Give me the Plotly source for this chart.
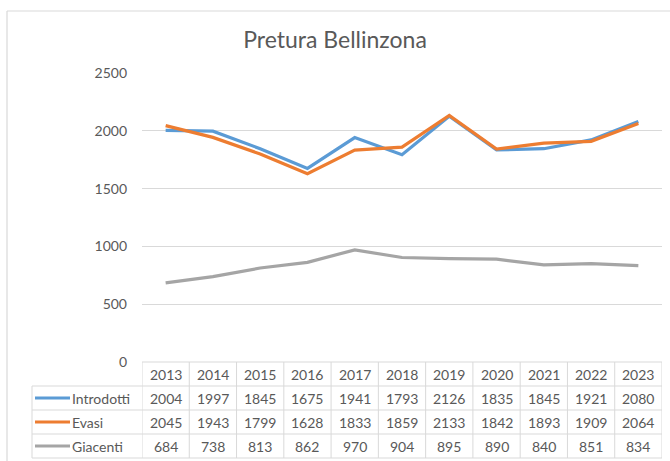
import plotly.graph_objects as go

years = ["2013", "2014", "2015", "2016", "2017", "2018", "2019", "2020", "2021", "2022", "2023"]
introdotti = [2004, 1997, 1845, 1675, 1941, 1793, 2126, 1835, 1845, 1921, 2080]
evasi = [2045, 1943, 1799, 1628, 1833, 1859, 2133, 1842, 1893, 1909, 2064]
giacenti = [684, 738, 813, 862, 970, 904, 895, 890, 840, 851, 834]

series = [("Introdotti", introdotti, "#5B9BD5"),
          ("Evasi", evasi, "#ED7D31"),
          ("Giacenti", giacenti, "#A5A5A5")]

W, H = 670, 461
L, R, T, B = 142, 662, 73, 362
FONT = "Lato"
TXT = "#595959"
GRID = "#D9D9D9"
FS = 14

def px(x):
    return (x - L) / (R - L)

def py(y):
    return (B - y) / (B - T)

xs = list(range(len(years)))
fig = go.Figure()
for name, vals, col in series:
    fig.add_trace(go.Scatter(x=xs, y=vals, mode="lines", name=name,
                             line=dict(color=col, width=3.2)))

shapes = []
annotations = []

# chart border
shapes.append(dict(type="line", xref="paper", yref="paper", x0=px(7), x1=px(700), y0=py(11), y1=py(11),
                   line=dict(color=GRID, width=1.2)))
shapes.append(dict(type="line", xref="paper", yref="paper", x0=px(7), x1=px(7), y0=py(11), y1=py(470),
                   line=dict(color=GRID, width=1.2)))

# table
row_edges = [362, 386, 410, 434, 458]
n = len(years)
shapes.append(dict(type="line", xref="x", yref="paper", x0=-0.5, x1=n - 0.5, y0=py(362), y1=py(362),
                   line=dict(color=GRID, width=1)))
for ye in row_edges[1:]:
    shapes.append(dict(type="line", xref="paper", yref="paper", x0=px(32), x1=1, y0=py(ye), y1=py(ye),
                       line=dict(color=GRID, width=1)))
for i in range(n + 1):
    shapes.append(dict(type="line", xref="x", yref="paper", x0=i - 0.5, x1=i - 0.5, y0=py(362), y1=py(458),
                       line=dict(color=GRID, width=1)))
shapes.append(dict(type="line", xref="paper", yref="paper", x0=px(32), x1=px(32), y0=py(386), y1=py(458),
                   line=dict(color=GRID, width=1)))

row_centers = [(row_edges[k] + row_edges[k + 1]) / 2 for k in range(4)]
for i, yr in enumerate(years):
    annotations.append(dict(x=i, y=py(row_centers[0]), xref="x", yref="paper", text=yr, showarrow=False,
                            xanchor="center", yanchor="middle",
                            font=dict(family=FONT, size=FS, color=TXT)))
for k, (name, vals, col) in enumerate(series):
    yc = py(row_centers[k + 1])
    for i, v in enumerate(vals):
        annotations.append(dict(x=i, y=yc, xref="x", yref="paper", text=str(v), showarrow=False,
                                xanchor="center", yanchor="middle",
                                font=dict(family=FONT, size=FS, color=TXT)))
    shapes.append(dict(type="line", xref="paper", yref="paper", x0=px(35), x1=px(70), y0=yc, y1=yc,
                       line=dict(color=col, width=3.2)))
    annotations.append(dict(x=px(70), y=yc, xref="paper", yref="paper", text=name, showarrow=False,
                            xanchor="left", yanchor="middle",
                            font=dict(family=FONT, size=FS, color=TXT)))

fig.update_layout(
    width=W, height=H,
    margin=dict(l=L, r=W - R, t=T, b=H - B, pad=0),
    paper_bgcolor="white", plot_bgcolor="white",
    showlegend=False,
    title=dict(text="Pretura Bellinzona", x=0.5, xref="container", xanchor="center",
               y=1 - 40 / H, yanchor="middle",
               font=dict(family=FONT, size=23, color=TXT)),
    xaxis=dict(range=[-0.5, n - 0.5], showticklabels=False, showgrid=False, zeroline=False,
               showline=False, ticks=""),
    yaxis=dict(range=[0, 2500], tickvals=[0, 500, 1000, 1500, 2000, 2500], showgrid=True,
               gridcolor=GRID, gridwidth=1, zeroline=False, showline=False, ticks="",
               ticklabelstandoff=14, tickfont=dict(family=FONT, size=FS, color=TXT)),
    shapes=shapes,
    annotations=annotations,
    font=dict(family=FONT),
)

fig.write_html("out.html", config={"displayModeBar": False},
               post_script="document.body.style.margin='0';document.body.style.overflow='hidden';")
